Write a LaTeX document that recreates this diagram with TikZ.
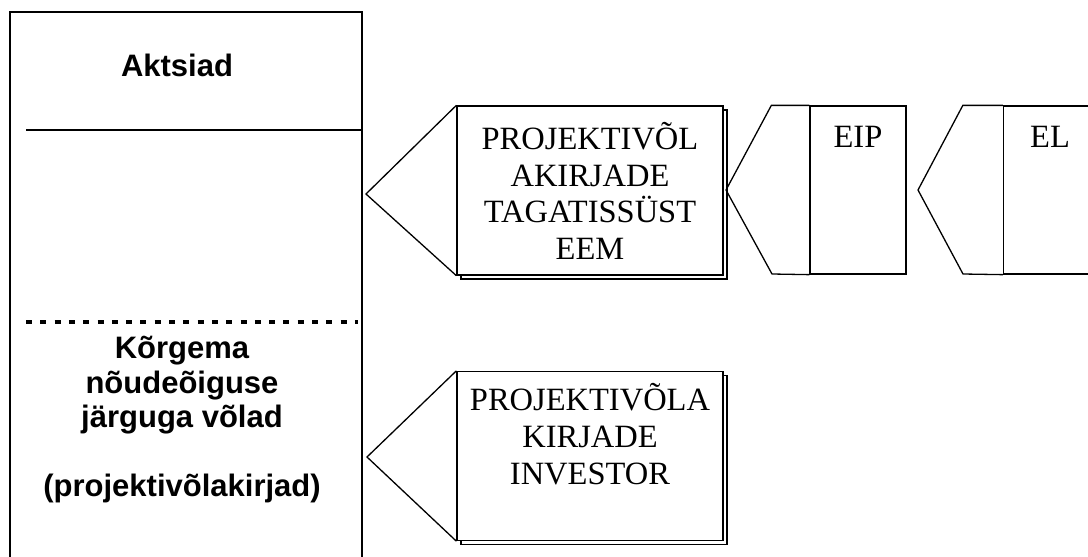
\documentclass[tikz,border=0pt]{standalone}
\usepackage{fontspec}
\setmainfont{Liberation Serif}
\setsansfont{Liberation Sans}
\usetikzlibrary{shadows}
\tikzset{
	sidetext/.style={font=\sffamily\bfseries\fontsize{31}{34.5}\selectfont,align=center,inner sep=0pt},
	boxtext/.style={font=\fontsize{32.5}{36.7}\selectfont,align=center,inner sep=0pt},
	notebox/.style={draw,fill=white,line width=1.3pt,minimum width=266pt,minimum height=169pt,inner sep=0pt,
		copy shadow={shadow xshift=4pt,shadow yshift=-4pt}},
	sidebox/.style={draw,line width=1.3pt,minimum width=96pt,minimum height=168pt,inner sep=0pt}
}
\begin{document}
\begin{tikzpicture}[x=1pt,y=-1pt,line width=1.3pt]
			\useasboundingbox (0,0) rectangle (1088,557);
			\clip (0,0) rectangle (1088,557);
			\draw (10,570) -- (10,12) -- (362,12) -- (362,570);
			\draw (26,130) -- (362,130);
			\draw[line width=4pt,dash pattern=on 6pt off 8.3pt] (26,322) -- (358,322);
			\node[sidetext] (aktsiad) at (177,65) {Aktsiad};
			\node[sidetext] (senior) at (182,420) {Kõrgema\\nõudeõiguse\\järguga võlad\\[34.5pt](projektivõlakirjad)};
			\coordinate (guartip) at (366,194);
			\coordinate (invtip) at (367,457);
			\node[notebox] (guarbox) at (590,190.5) {};
			\node[notebox] (invbox) at (590,456) {};
			\draw (guarbox.north west) -- (guartip) -- (guarbox.south west);
			\draw (invbox.north west) -- (invtip) -- (invbox.south west);
			\node[boxtext] (guartext) at (590,191) {PROJEKTIVÕL\\AKIRJADE\\TAGATISSÜST\\EEM};
			\node[boxtext] (invtext) at (590,434) {PROJEKTIVÕLA\\KIRJADE\\INVESTOR};
			\coordinate (eiptip) at (726,190);
			\coordinate (eltip) at (918,190);
			\node[sidebox] (eipbox) at (858,190) {};
			\node[sidebox] (elbox) at (1051.5,190) {};
			\draw (eipbox.north west) -- ++(-38,0) -- (eiptip) -- ++(46,84) -- (eipbox.south west);
			\draw (elbox.north west) -- ++(-40,0) -- (eltip) -- ++(45,84) -- (elbox.south west);
			\node[boxtext] (eiptext) at (858,137) {EIP};
			\node[boxtext] (eltext) at (1050,137) {EL};
\end{tikzpicture}
\end{document}
